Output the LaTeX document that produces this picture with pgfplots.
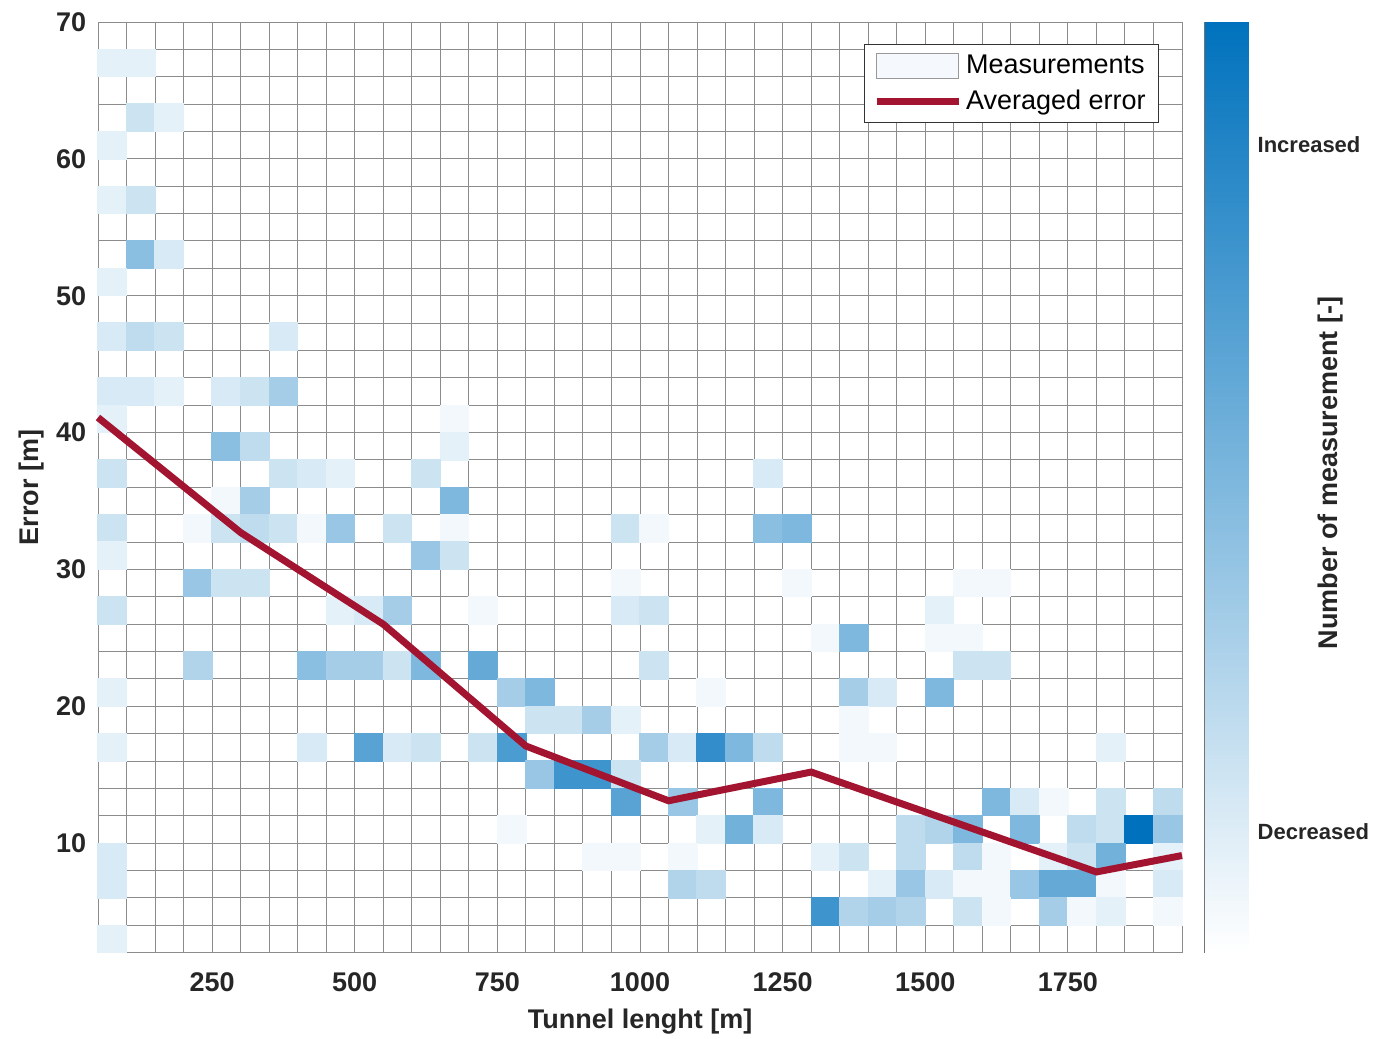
\documentclass[border=0pt]{standalone}
\usepackage{pgfplots}
\pgfplotsset{compat=1.18}
\usepackage{pgfplotstable}
\usepackage{fontspec}
\setmainfont{Liberation Sans}

\definecolor{errred}{RGB}{162,20,47}
\definecolor{gridgray}{RGB}{140,140,140}
\definecolor{legfill}{RGB}{245,249,253}

% 2D histogram: bin centre (x, y) and count c, empty bins left out
\pgfplotstableread{
x y c
75 67 2
125 67 2
125 63 4
175 63 2
75 61 2
75 57 2
125 57 4
125 53 9
175 53 3
75 51 2
75 47 3
125 47 5
175 47 4
375 47 3
75 43 3
125 43 3
175 43 2
275 43 3
325 43 4
375 43 7
75 41 2
675 41 1
275 39 9
325 39 5
675 39 2
75 37 4
375 37 4
425 37 3
475 37 2
625 37 4
1225 37 3
275 35 1
325 35 7
675 35 10
75 33 4
225 33 1
275 33 4
325 33 5
375 33 4
425 33 1
475 33 8
575 33 4
675 33 1
975 33 4
1025 33 1
1225 33 9
1275 33 10
75 31 2
625 31 8
675 31 4
225 29 8
275 29 4
325 29 4
975 29 1
1275 29 1
1575 29 1
1625 29 1
75 27 4
475 27 2
525 27 3
575 27 7
725 27 1
975 27 3
1025 27 4
1525 27 2
1325 25 1
1375 25 10
1525 25 1
1575 25 1
225 23 6
425 23 9
475 23 7
525 23 7
575 23 4
625 23 10
725 23 12
1025 23 4
1575 23 4
1625 23 4
75 21 2
775 21 7
825 21 10
1125 21 1
1375 21 7
1425 21 3
1525 21 10
825 19 4
875 19 4
925 19 7
975 19 2
1375 19 1
75 17 2
425 17 3
525 17 13
575 17 3
625 17 4
725 17 4
775 17 14
1025 17 7
1075 17 3
1125 17 16
1175 17 10
1225 17 5
1375 17 1
1425 17 1
1825 17 2
825 15 8
875 15 15
925 15 15
975 15 4
975 13 13
1075 13 8
1225 13 10
1625 13 10
1675 13 3
1725 13 1
1825 13 4
1925 13 5
775 11 1
1125 11 2
1175 11 11
1225 11 3
1475 11 5
1525 11 6
1575 11 10
1675 11 10
1775 11 5
1825 11 4
1875 11 20
1925 11 8
75 9 3
925 9 1
975 9 1
1075 9 1
1325 9 2
1375 9 4
1475 9 5
1575 9 5
1625 9 1
1725 9 2
1775 9 4
1825 9 11
1925 9 2
75 7 3
1075 7 6
1125 7 5
1425 7 2
1475 7 8
1525 7 3
1575 7 1
1625 7 1
1675 7 8
1725 7 12
1775 7 12
1825 7 1
1925 7 3
1325 5 15
1375 5 6
1425 5 7
1475 5 6
1575 5 4
1625 5 1
1725 5 7
1775 5 1
1825 5 2
1925 5 1
75 3 2
}\cells

\pgfplotsset{
  blueish/.style={colormap={wb}{rgb255=(255,255,255) rgb255=(0,114,189)},
    point meta min=0, point meta max=20},
  % grid drawn above the cells, the error line above the grid
  layers/gridtop/.define layer set={axis background, axis ticks, main, axis grid,
    axis lines, axis tick labels, axis descriptions, axis foreground}{},
}
\tikzset{boldtext/.style={font=\bfseries\fontsize{13.5}{16}\selectfont, text=black!85}}

\begin{document}
\begin{tikzpicture}
\begin{axis}[
  name=main,
  set layers=gridtop,
  blueish,
  width=542pt, height=465.35pt, scale only axis,
  xmin=50, xmax=1950, ymin=2, ymax=70,
  xtick={250,500,...,1750}, ytick={10,20,...,70},
  minor xtick={50,100,...,1950}, minor ytick={2,4,...,70},
  grid=both,
  major grid style={gridgray, line width=0.5pt},
  minor grid style={gridgray, line width=0.5pt},
  axis line style={gridgray, line width=0.5pt},
  major tick length=0pt, minor tick length=0pt,
  /pgf/number format/assume math mode=true,
  /pgf/number format/1000 sep={},
  ticklabel style={boldtext},
  yticklabel style={xshift=-2.4pt},
  xticklabel style={yshift=-6.5pt},
  label style={boldtext},
  xlabel={Tunnel lenght [m]},
  ylabel={Error [m]},
  xlabel style={at={(axis description cs:0.5,-0.0745)}, anchor=center},
  ylabel style={at={(axis description cs:-0.0615,0.5)}, anchor=center},
  legend style={at={(axis description cs:0.9790,0.9760)}, anchor=north east,
    draw=black!80, line width=0.5pt, fill=white,
    font=\fontsize{13.5}{16}\selectfont, row sep=3pt,
    inner xsep=4.5pt, inner ysep=3pt},
  legend cell align=left,
]

\addplot[
  scatter, only marks,
  scatter src=explicit,
  mark=square*, mark size=7.2pt,
  mark options={yscale=0.96, line width=0pt},
  scatter/use mapped color={draw=mapped color, fill=mapped color},
  legend image code/.code={\draw[black!40, fill=legfill, line width=0.5pt] (0pt,-6.2pt) rectangle (41pt,6.2pt);},
] table[x=x, y=y, meta=c] {\cells};
\addlegendentry{Measurements}

\addplot[errred, line width=3.5pt, on layer=axis foreground,
  legend image code/.code={\draw[errred, line width=3.5pt] (0pt,0pt) -- (41pt,0pt);},
] coordinates {(50,41.1) (300,32.7) (550,26.0) (800,17.1) (1050,13.1) (1300,15.2) (1800,7.9) (1950,9.1)};
\addlegendentry{Averaged error}
\end{axis}

% colour bar
\begin{axis}[
  at={(main.north east)}, anchor=north west, xshift=11.35pt,
  blueish,
  width=21.65pt, height=465.35pt, scale only axis,
  xmin=0, xmax=1, ymin=0, ymax=20,
  xtick=\empty,
  ytick={2.6,17.36}, yticklabels={Decreased,Increased},
  ytick pos=right, yticklabel pos=right,
  tick align=inside, major tick length=5pt,
  tick style={black!80, line width=0.5pt},
  axis line style={black!55, line width=0.5pt},
  yticklabel style={font=\bfseries\fontsize{11}{13}\selectfont, text=black!85, xshift=1.3pt},
  ylabel={Number of measurement [-]},
  ylabel style={boldtext, at={(axis description cs:2.905,0.5156)}, anchor=center},
]
\addplot[surf, shader=interp, point meta=y, mesh/cols=2] coordinates {(0,0) (1,0) (0,20) (1,20)};
\end{axis}

\pgfresetboundingbox
\useasboundingbox ([xshift=-49pt,yshift=-42.65pt]main.south west) rectangle ([xshift=640.5pt,yshift=476.35pt]main.south west);
\end{tikzpicture}
\end{document}
